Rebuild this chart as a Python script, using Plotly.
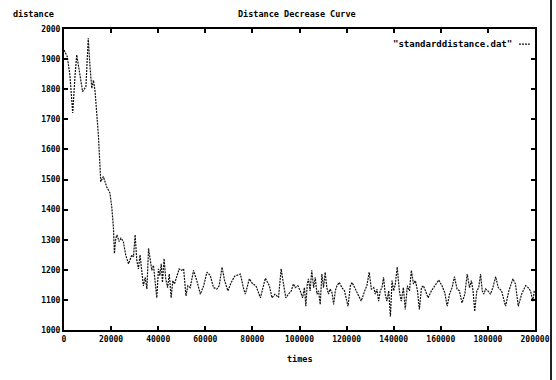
import plotly.graph_objects as go

times = [0, 1400, 2500, 3700, 4700, 5400, 6100, 7900, 9300, 10300, 11000, 11800, 12500, 13200,
         14600, 15600, 16700, 18100, 19500, 20300, 21000, 21400, 22000, 22500, 23400, 24200, 25200,
         26200, 27400, 28100, 28800, 29500, 30200, 30900, 31600, 32300, 33000, 33700, 34500, 35200,
         35900, 36600, 37300, 38000, 38700, 39400, 40100, 40700, 41300, 41800, 42500, 43200, 44000,
         44700, 45500, 46200, 46900, 47900, 48900, 49800, 50800, 51800, 52600, 53600, 55000, 56400,
         57900, 59300, 60700, 62100, 63500, 64900, 65900, 67100, 68200, 69600, 71000, 72500, 73900,
         74900, 76300, 77000, 78700, 80100, 81500, 83400, 85500, 87200, 88300, 89600, 91100, 92200,
         93200, 94200, 95300, 96500, 97400, 98200, 99300, 100300, 101300, 102100, 102700, 103300,
         103800, 104500, 105200, 106000, 106700, 107400, 108100, 108800, 109500, 110200, 110900,
         111600, 112300, 113000, 113800, 114500, 115200, 115900, 116900, 118000, 119100, 120600,
         121600, 122300, 123400, 124800, 126200, 127700, 128600, 129600, 130500, 131500, 132200,
         132900, 133600, 134300, 135000, 135700, 136400, 137100, 137900, 138600, 139300, 140000,
         140700, 141500, 142400, 143200, 144100, 144900, 145800, 146700, 147500, 148400, 149200,
         150100, 150900, 151800, 152600, 153500, 154600, 156000, 157400, 159100, 160500, 161700,
         162700, 163700, 164800, 165800, 166900, 167900, 169000, 170200, 171200, 172200, 173000,
         173700, 174400, 175300, 176100, 176900, 177600, 178300, 179000, 180000, 181100, 182100,
         183300, 184400, 185800, 187500, 188900, 190600, 191700, 192900, 194300, 196000, 197100,
         198100, 199100, 199700]

distance = [1930, 1908, 1847, 1721, 1847, 1914, 1880, 1792, 1808, 1969, 1880, 1803, 1830, 1792,
            1648, 1493, 1510, 1476, 1455, 1407, 1339, 1254, 1305, 1316, 1294, 1305, 1294,
            1249, 1220, 1232, 1249, 1243, 1316, 1232, 1203, 1249, 1192, 1147, 1175, 1136,
            1271, 1226, 1198, 1215, 1170, 1107, 1203, 1181, 1220, 1158, 1237, 1170, 1141,
            1186, 1107, 1164, 1153, 1175, 1203, 1198, 1203, 1113, 1147, 1141, 1198, 1164,
            1119, 1147, 1192, 1181, 1141, 1136, 1147, 1209, 1164, 1130, 1158, 1179, 1183,
            1186, 1136, 1119, 1170, 1153, 1147, 1107, 1172, 1147, 1107, 1119, 1108, 1203,
            1153, 1107, 1119, 1130, 1153, 1141, 1147, 1130, 1107, 1141, 1079, 1153,
            1170, 1130, 1198, 1141, 1175, 1119, 1130, 1085, 1186, 1141, 1192,
            1141, 1119, 1136, 1124, 1085, 1130, 1147, 1158, 1141, 1130, 1079,
            1147, 1158, 1141, 1119, 1096, 1130, 1147, 1192, 1136, 1141, 1119,
            1136, 1096, 1130, 1141, 1175, 1119, 1096, 1130, 1045, 1164, 1130,
            1153, 1209, 1130, 1096, 1141, 1068, 1147, 1130, 1198, 1153, 1164,
            1130, 1068, 1141, 1147, 1130, 1107, 1130, 1147, 1166, 1147, 1124,
            1079, 1119, 1141, 1177, 1136, 1130, 1090, 1119, 1186, 1141, 1164,
            1130, 1062, 1130, 1141, 1186, 1130, 1119, 1136, 1130, 1119, 1141,
            1177, 1141, 1130, 1079, 1130, 1170, 1153, 1079, 1119, 1147, 1141,
            1130, 1096, 1130]

x_ticks = [0, 20000, 40000, 60000, 80000, 100000, 120000, 140000, 160000, 180000, 200000]
y_ticks = [1000, 1100, 1200, 1300, 1400, 1500, 1600, 1700, 1800, 1900, 2000]

title_text = "Distance Decrease Curve"
x_label = "times"
y_label = "distance"
series_name = '"standarddistance.dat"'

FONT = "DejaVu Sans Mono"
tickfont = dict(family=FONT, size=8, color="black", weight="bold")

fig = go.Figure()
fig.add_trace(go.Scatter(
    x=times, y=distance, mode="lines", name=series_name,
    line=dict(color="#111111", width=1.2, dash="2px,1px"),
    showlegend=False,
))

axis_common = dict(
    showgrid=False, zeroline=False, showline=True, linecolor="black", linewidth=2,
    mirror="ticks", ticks="inside", ticklen=4, tickwidth=1.5, tickcolor="black",
    tickfont=tickfont, automargin=False,
)

fig.update_xaxes(range=[0, 200000], tickvals=x_ticks, ticktext=[str(v) for v in x_ticks],
                 **axis_common)
fig.update_yaxes(range=[1000, 2000], tickvals=y_ticks, ticktext=[str(v) for v in y_ticks],
                 **axis_common)

fig.update_layout(
    width=556, height=380,
    margin=dict(l=64, r=21, t=29, b=50),
    paper_bgcolor="white", plot_bgcolor="white",
    font=dict(family=FONT, size=8, color="black"),
    annotations=[
        dict(text=title_text, xref="paper", yref="paper", x=0.495, y=1.0, yshift=15,
             showarrow=False, xanchor="center", yanchor="middle",
             font=dict(family=FONT, size=8.5, color="black", weight="bold")),
        dict(text=y_label, xref="paper", yref="paper", x=0, xshift=-53, y=1.0, yshift=15,
             showarrow=False, xanchor="left", yanchor="middle",
             font=dict(family=FONT, size=8.5, color="black", weight="bold")),
        dict(text=x_label, xref="paper", yref="paper", x=0.5, y=0, yshift=-29,
             showarrow=False, xanchor="center", yanchor="middle",
             font=dict(family=FONT, size=8.5, color="black", weight="bold")),
        dict(text=series_name, xref="paper", yref="paper", x=0.955, y=0.95,
             showarrow=False, xanchor="right", yanchor="middle",
             font=dict(family=FONT, size=9, color="black", weight="bold")),
    ],
    shapes=[
        dict(type="line", xref="paper", yref="paper", x0=0.966, x1=0.989, y0=0.95, y1=0.95,
             line=dict(color="#111111", width=1.2, dash="2px,1px")),
        dict(type="line", xref="paper", yref="paper", x0=1.034, x1=1.034, y0=-0.17, y1=1.1,
             line=dict(color="#222222", width=2)),
    ],
)

fig.write_html("out.html")
